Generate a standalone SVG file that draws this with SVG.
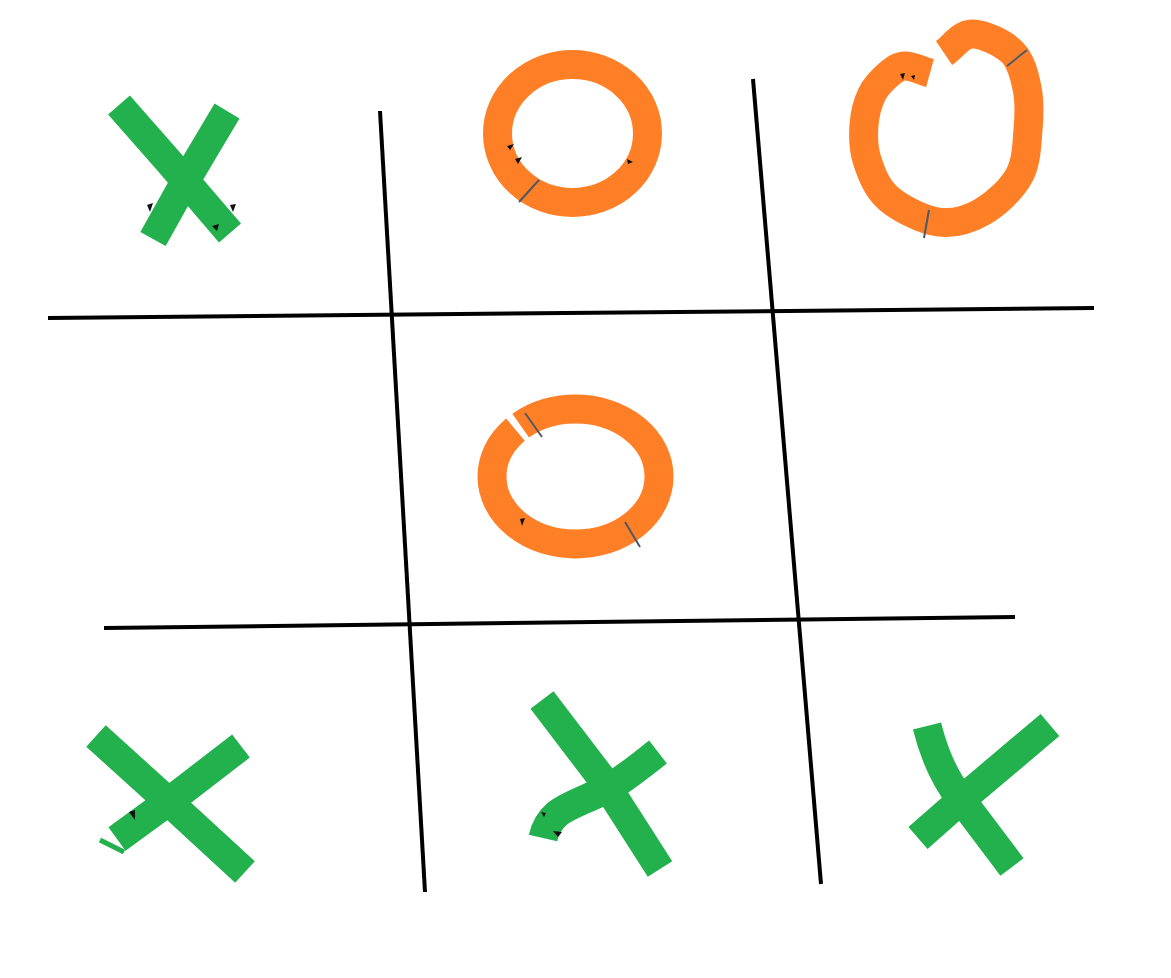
<svg xmlns="http://www.w3.org/2000/svg" width="1171" height="978" viewBox="0 0 1171 978">
  <style>
    .grid { stroke: #000; stroke-width: 4; fill: none; stroke-linecap: butt; }
    .x { stroke: #22b14c; stroke-width: 29; fill: none; stroke-linecap: butt; stroke-linejoin: round; }
    .o { stroke: #ff7f27; stroke-width: 29; fill: none; stroke-linecap: butt; stroke-linejoin: round; }
    .seam { stroke: #4d5a66; stroke-width: 2; fill: none; }
    .nick { fill: #111; }
  </style>
  <rect width="1171" height="978" fill="#fff"/>

  <g id="grid">
    <line class="grid" x1="380" y1="111" x2="425" y2="892"/>
    <line class="grid" x1="753" y1="79" x2="821" y2="884"/>
    <line class="grid" x1="48" y1="318" x2="1094" y2="308"/>
    <line class="grid" x1="104" y1="628" x2="1015" y2="617"/>
  </g>

  <g id="x-top-left">
    <path class="x" d="M119,105 L170,163 L230,233"/>
    <path class="x" d="M227,111 L186,180 L153,239"/>
    <polygon class="nick" points="147,205 153,203 150,212"/>
    <polygon class="nick" points="230,205 236,204 233,212"/>
    <polygon class="nick" points="212,226 219,224 217,231"/>
  </g>

  <g id="o-top-middle">
    <ellipse class="o" cx="572.5" cy="133.5" rx="75" ry="69"/>
    <line class="seam" x1="519" y1="202" x2="539" y2="180"/>
    <polygon class="nick" points="507,146 514,144 510,150"/>
    <polygon class="nick" points="515,159 522,157 518,164"/>
    <polygon class="nick" points="627,159 633,162 628,164"/>
  </g>

  <g id="o-top-right">
    <path class="o" d="M944,53 C953.3,46.7 960.7,34.2 972,34 C983.3,33.8 1002.8,43 1012,52 C1021.2,61 1024.3,75 1027,88 C1029.7,101 1029.3,115.3 1028,130 C1026.7,144.7 1026.7,162.3 1019,176 C1011.3,189.7 995.5,204.3 982,212 C968.5,219.7 953.7,224.3 938,222 C922.3,219.7 899.8,208.3 888,198 C876.2,187.7 871,172.2 867,160 C863,147.8 863.2,136 864,125 C864.8,114 867.8,102.5 872,94 C876.2,85.5 883.5,78.7 889,74 C894.5,69.3 898.2,66.2 905,66 C911.8,65.8 921.7,70.7 930,73"/>
    <line class="seam" x1="1007" y1="66" x2="1027" y2="50"/>
    <line class="seam" x1="929" y1="210" x2="924" y2="238"/>
    <polygon class="nick" points="900,74 905,73 903,80"/>
    <polygon class="nick" points="911,76 915,75 914,80"/>
  </g>

  <g id="o-center">
    <ellipse class="o" cx="575.5" cy="476.5" rx="83.5" ry="67.5" pathLength="360" stroke-dasharray="221 5 134 0"/>
    <line class="seam" x1="525" y1="413" x2="542" y2="437"/>
    <line class="seam" x1="625" y1="522" x2="640" y2="547"/>
    <polygon class="nick" points="520,519 525,518 522,526"/>
  </g>

  <g id="x-bottom-left">
    <path class="x" d="M96,736 L170,803 L245,872"/>
    <path class="x" d="M117,839 L180,793 L241,746"/>
    <line x1="100" y1="840" x2="124" y2="852" stroke="#22b14c" stroke-width="5"/>
    <polygon class="nick" points="129,812 135,810 135,820"/>
  </g>

  <g id="x-bottom-middle">
    <path class="x" d="M542,700 L603,780 L660,869"/>
    <path class="x" d="M658,752 C640,766 622,781 605,790 C585,800 568,805 557,814 C549,821 545,829 543,838"/>
    <polygon class="nick" points="541,812 546,813 544,817"/>
    <polygon class="nick" points="553,831 562,832 558,837"/>
  </g>

  <g id="x-bottom-right">
    <path class="x" d="M927,726 C933,750 942,775 960,798 L1012,867"/>
    <path class="x" d="M1050,725 L960,801 L918,838"/>
  </g>
</svg>
